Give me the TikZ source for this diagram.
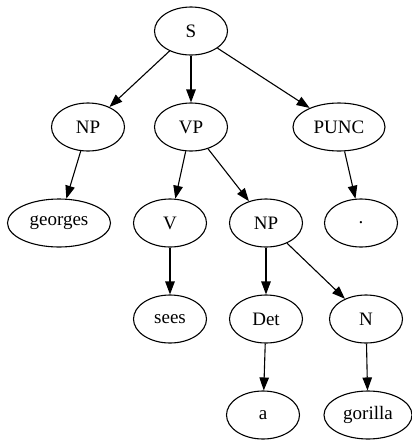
\documentclass[tikz,border=0pt]{standalone}
\usepackage{fontspec}
\setmainfont{Liberation Serif}
\usetikzlibrary{shapes.geometric,arrows.meta}
\begin{document}
\begin{tikzpicture}[x=1pt,y=-1pt,
  tn/.style={draw,ellipse,line width=1.1pt,minimum width=73pt,minimum height=48pt,inner sep=0pt,font=\fontsize{19}{22}\selectfont},
  edge/.style={line width=1.1pt,-{Triangle[length=13pt,width=9.5pt]}}]
\useasboundingbox (0,0) rectangle (412,440);
\node[tn] (S) at (191,31) {S};
\node[tn] (NP) at (88,127) {NP};
\node[tn] (VP) at (191,127) {VP};
\node[tn,minimum width=92pt] (PUNC) at (339,127) {PUNC};
\node[tn,minimum width=103pt] (georges) at (59,223) {georges};
\node[tn] (V) at (170,223) {V};
\node[tn] (NP2) at (266,223) {NP};
\node[tn] (dot) at (361,223) {.};
\node[tn] (sees) at (170,319) {sees};
\node[tn] (Det) at (266,319) {Det};
\node[tn] (N) at (366,319) {N};
\node[tn] (a) at (263,415) {a};
\node[tn,minimum width=88pt] (gorilla) at (368,415) {gorilla};
\draw[edge] (S) -- (NP);
\draw[edge] (S) -- (VP);
\draw[edge] (S) -- (PUNC);
\draw[edge] (NP) -- (georges);
\draw[edge] (VP) -- (V);
\draw[edge] (VP) -- (NP2);
\draw[edge] (PUNC) -- (dot);
\draw[edge] (V) -- (sees);
\draw[edge] (NP2) -- (Det);
\draw[edge] (NP2) -- (N);
\draw[edge] (Det) -- (a);
\draw[edge] (N) -- (gorilla);
\end{tikzpicture}
\end{document}
